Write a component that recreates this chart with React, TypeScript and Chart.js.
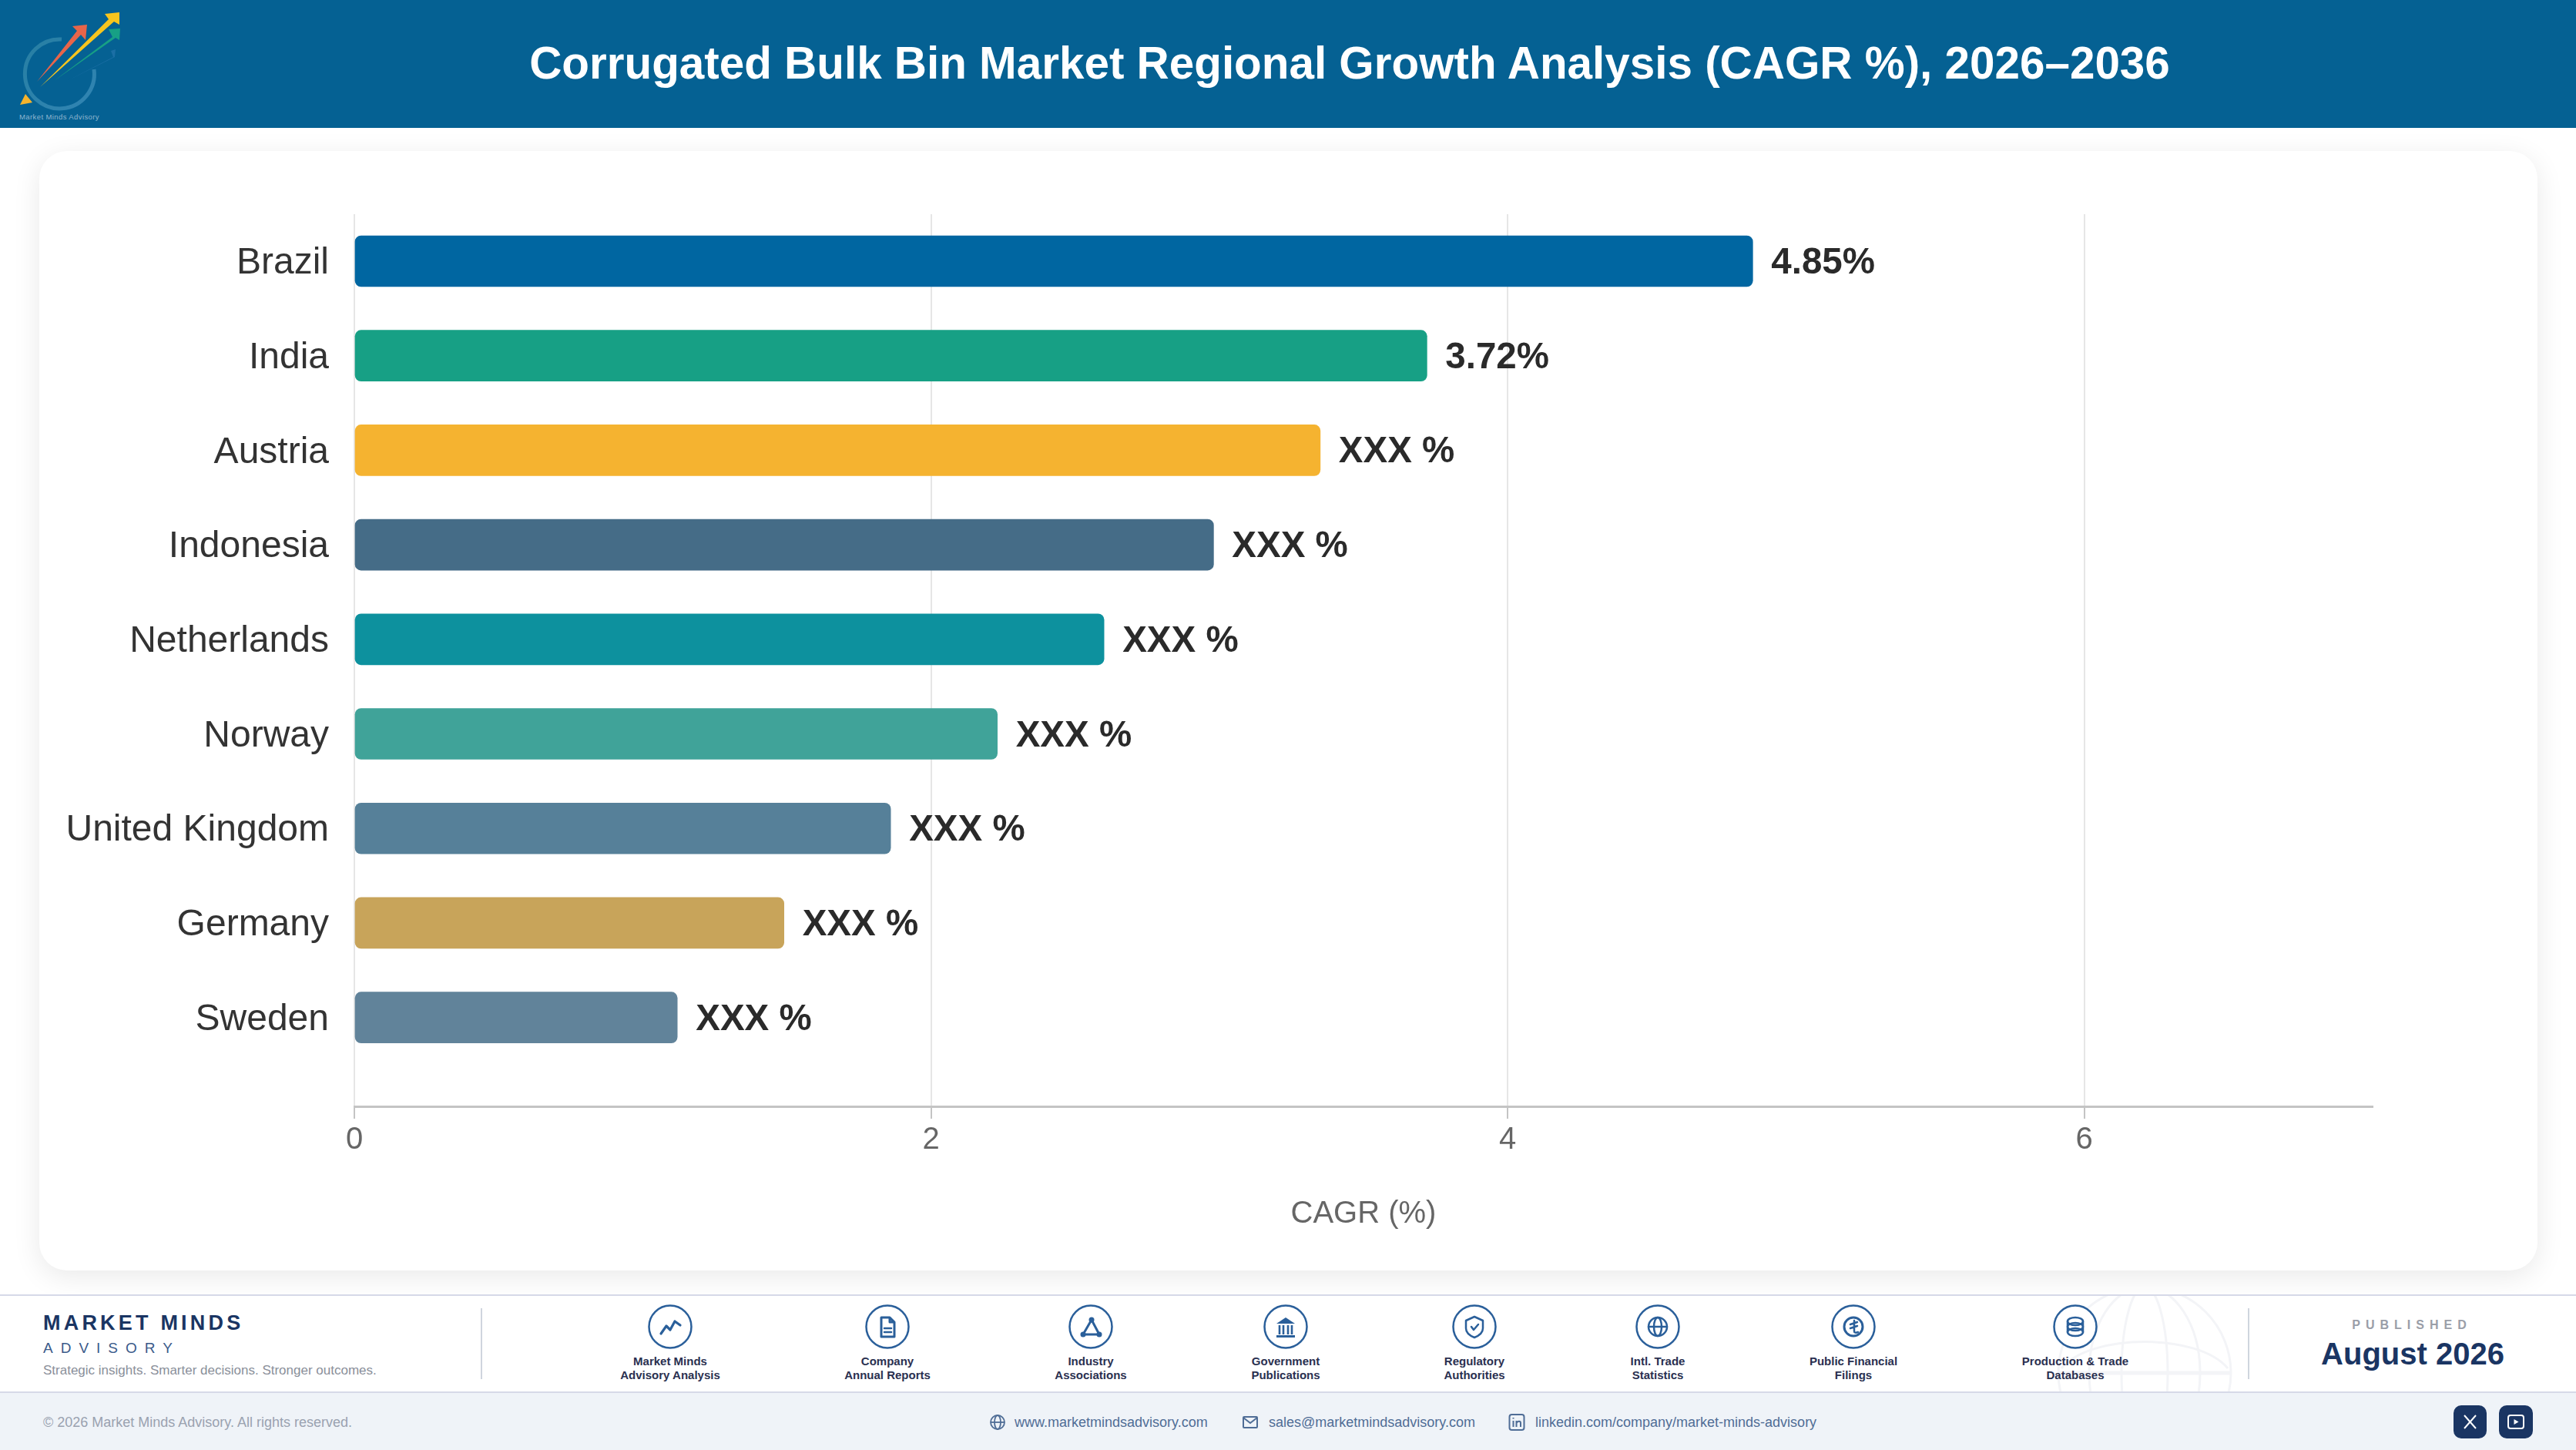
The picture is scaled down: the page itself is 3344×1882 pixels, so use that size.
import React, { useEffect, useRef } from "react";
import { Chart, registerables } from "chart.js";

Chart.register(...registerables);

const categories = ["Brazil", "India", "Austria", "Indonesia", "Netherlands", "Norway", "United Kingdom", "Germany", "Sweden"];
const cagrValues = [4.85, 3.72, 3.35, 2.98, 2.6, 2.23, 1.86, 1.49, 1.12];
const valueLabels = ["4.85%", "3.72%", "XXX %", "XXX %", "XXX %", "XXX %", "XXX %", "XXX %", "XXX %"];
const barColors = ["#0066A1", "#17A085", "#F5B330", "#456C87", "#0D919E", "#40A399", "#568099", "#C8A45A", "#61839A"];
const xTicks = [0, 2, 4, 6];
const titleText = "Corrugated Bulk Bin Market Regional Growth Analysis (CAGR %), 2026–2036";
const axisTitle = "CAGR (%)";
const FONT = '"Liberation Sans", Arial, sans-serif';

const sourceItems = [
  { x: 870, lines: ["Market Minds", "Advisory Analysis"], icon: "chart" },
  { x: 1152, lines: ["Company", "Annual Reports"], icon: "doc" },
  { x: 1416, lines: ["Industry", "Associations"], icon: "tri" },
  { x: 1669, lines: ["Government", "Publications"], icon: "gov" },
  { x: 1914, lines: ["Regulatory", "Authorities"], icon: "shield" },
  { x: 2152, lines: ["Intl. Trade", "Statistics"], icon: "globe" },
  { x: 2406, lines: ["Public Financial", "Filings"], icon: "coin" },
  { x: 2694, lines: ["Production & Trade", "Databases"], icon: "db" },
];

const BLUE = "#2A5F9A";
const NAVY = "#1A3563";

function Icon({ kind }: { kind: string }) {
  const s = { fill: "none", stroke: BLUE, strokeWidth: 2.5, strokeLinecap: "round", strokeLinejoin: "round" } as any;
  let inner: any = null;
  if (kind === "chart") inner = <path {...s} strokeWidth={3.2} d="M-12 9 L-5 -1 L0 4 L6 -7 L13 -2" />;
  if (kind === "doc") inner = (<g><path {...s} strokeWidth={3} d="M-8 -12 H3 L9 -6 V13 H-8 Z M3 -12 V-6 H9" /><path {...s} d="M-4 2 H5 M-4 7 H5" /></g>);
  if (kind === "tri") inner = (<g><path {...s} strokeWidth={3} d="M1 -9 L-10 10 H11 Z" /><circle cx={1} cy={-9} r={3.5} fill={BLUE} /><circle cx={-10} cy={10} r={3.5} fill={BLUE} /><circle cx={11} cy={10} r={3.5} fill={BLUE} /></g>);
  if (kind === "gov") inner = (<g><path fill={BLUE} d="M0 -12 L12 -4 H-12 Z" /><path {...s} strokeLinecap="butt" strokeWidth={2.6} d="M-8 -2 V10 M-3 -2 V10 M3 -2 V10 M8 -2 V10" /><rect x={-12} y={11} width={24} height={3} fill={BLUE} /></g>);
  if (kind === "shield") inner = (<g><path {...s} d="M0 -13 L11 -8 V2 C11 8 5 12 0 14 C-5 12 -11 8 -11 2 V-8 Z" /><path {...s} d="M-4 0 L-1 4 L5 -3" /></g>);
  if (kind === "globe") inner = (<g><circle {...s} r={12} /><ellipse {...s} rx={5} ry={12} /><path {...s} d="M-12 0 H12" /></g>);
  if (kind === "coin") inner = (<g><circle {...s} strokeWidth={3} r={12} /><path {...s} d="M-4 -3 L5 -6 M-4 2 L5 -1 M1 -8 V6 C1 8 3 8 6 7" /></g>);
  if (kind === "db") inner = (<g><ellipse {...s} rx={10} ry={5} cy={-7} /><ellipse {...s} rx={10} ry={5} cy={0} /><ellipse {...s} rx={10} ry={5} cy={7} /><path {...s} d="M-10 -7 V7 M10 -7 V7" /></g>);
  return inner;
}

function Txt(props: any) {
  const { x, y, size, color, bold, ls, anchor, children } = props;
  const tx = anchor === "center" ? "translate(-50%,-50%)" : "translateY(-50%)";
  return (
    <div style={{ position: "absolute", left: x, top: y, transform: tx, fontFamily: FONT, fontSize: size, color, fontWeight: bold ? 700 : 400, letterSpacing: ls || 0, whiteSpace: "nowrap", lineHeight: 1 }}>
      {children}
    </div>
  );
}

function Logo() {
  return (
    <svg style={{ position: "absolute", left: 0, top: 0 }} width={170} height={166}>
      <defs>
        <linearGradient id="arc" x1="0" y1="0" x2="1" y2="1">
          <stop offset="0" stopColor="#3E93AE" />
          <stop offset="1" stopColor="#4E9CC8" />
        </linearGradient>
      </defs>
      <path d="M80 51 A45 45 0 1 0 122 90" fill="none" stroke="url(#arc)" strokeWidth={5} opacity={0.6} />
      <polygon points="48,106 100,40 94,34 113,32 111,52 105,45" fill="#E8654A" />
      <polygon points="52,113 141,25 136,18 155,16 155,32 148,28" fill="#F7C51E" />
      <polygon points="70,105 146,48 141,38 156,37 155,52 150,49" fill="#17A085" />
      <polygon points="85,106 147,74 144,66 150,64 149,74" fill="#2A78B0" opacity={0.6} />
      <polygon points="33,122 26,136 42,133" fill="#F7B32B" />
      <text x={25} y={155} fontFamily={FONT} fontSize={9.5} fill="#8FB6D0" letterSpacing={0.4}>Market Minds Advisory</text>
    </svg>
  );
}

const valueLabelPlugin = {
  id: "valueLabels",
  afterDatasetsDraw(chart: any) {
    const ctx = chart.ctx;
    const meta = chart.getDatasetMeta(0);
    ctx.save();
    ctx.font = `700 47.5px ${FONT}`;
    ctx.fillStyle = "#2A2A2A";
    ctx.textAlign = "left";
    ctx.textBaseline = "middle";
    meta.data.forEach((bar: any, i: number) => {
      ctx.fillText(valueLabels[i], bar.x + 24, bar.y + 3);
    });
    ctx.restore();
  },
};

export default function App() {
  const ref = useRef<HTMLCanvasElement>(null);
  useEffect(() => {
    const chart = new Chart(ref.current as any, {
      type: "bar",
      data: {
        labels: categories,
        datasets: [
          {
            label: axisTitle,
            data: cagrValues.map((v, i) => ({ x: v, y: i })) as any,
            backgroundColor: barColors,
            borderRadius: 8,
            borderSkipped: false,
            barThickness: 66,
          },
        ],
      },
      options: {
        indexAxis: "y",
        animation: false,
        responsive: false,
        devicePixelRatio: 1,
        layout: { padding: { top: 82, right: 214, left: 0, bottom: 0 } },
        plugins: { legend: { display: false }, tooltip: { enabled: false } },
        scales: {
          x: {
            type: "linear",
            min: 0,
            max: 7,
            afterBuildTicks: (axis: any) => { axis.ticks = xTicks.map((value) => ({ value })); },
            afterFit: (axis: any) => { axis.height = 213; },
            grid: { color: "#E6E6E6", lineWidth: 2, tickColor: "#C4C4C4", tickWidth: 2, tickLength: 16, drawTicks: true },
            border: { display: true, color: "#C4C4C4", width: 3 },
            ticks: { color: "#666666", font: { family: FONT, size: 40 }, padding: 4, maxRotation: 0 },
            title: { display: true, text: axisTitle, color: "#666666", font: { family: FONT, size: 40 }, padding: { top: 0, bottom: 49 } },
          },
          y: {
            type: "linear",
            reverse: true,
            offset: false,
            min: -0.497,
            max: 8.94,
            afterBuildTicks: (axis: any) => { axis.ticks = categories.map((_, value) => ({ value })); },
            afterFit: (axis: any) => { axis.width = 409; },
            grid: { display: false, drawTicks: false, offset: false },
            border: { display: false },
            ticks: {
              autoSkip: false,
              color: "#333333",
              font: { family: FONT, size: 48 },
              padding: 33,
              labelOffset: 3,
              callback: (v: any) => categories[v as number],
            },
          },
        },
      },
      plugins: [valueLabelPlugin],
    } as any);
    return () => chart.destroy();
  }, []);

  return (
    <div style={{ position: "absolute", left: 0, top: 0, width: 3344, height: 1882, overflow: "hidden", background: "#FFFFFF" }}>
      <div style={{ position: "absolute", left: 0, top: 0, width: 3344, height: 166, background: "#056193" }} />
      <Logo />
      <Txt x={1752} y={82} size={58.4} color="#FFFFFF" bold anchor="center">{titleText}</Txt>

      <div style={{ position: "absolute", left: 51, top: 196, width: 3243, height: 1453, background: "#FFFFFF", borderRadius: 36, boxShadow: "0 8px 36px rgba(0,0,0,0.09)" }} />
      <canvas ref={ref} width={3243} height={1453} style={{ position: "absolute", left: 51, top: 196, width: 3243, height: 1453 }} />

      <div style={{ position: "absolute", left: 0, top: 1680, width: 3344, height: 128, background: "#FFFFFF", borderTop: "2px solid #D6D9E8", borderBottom: "2px solid #D6D9E8", boxSizing: "border-box" }} />
      <div style={{ position: "absolute", left: 0, top: 1808, width: 3344, height: 74, background: "#EFF3F8" }} />

      <svg style={{ position: "absolute", left: 2600, top: 1682, overflow: "hidden" }} width={380} height={124}>
        <g transform="translate(184,100)" fill="none" stroke="#F3F4F7" strokeWidth={3}>
          <circle r={112} />
          <ellipse rx={72} ry={112} />
          <ellipse rx={30} ry={112} />
          <path d="M-112 0 H112" strokeWidth={5} />
          <path d="M-108 -6 C-70 -52 70 -52 108 -6" />
        </g>
      </svg>

      <Txt x={56} y={1717} size={27} color={NAVY} bold ls={4.2}>MARKET MINDS</Txt>
      <Txt x={56} y={1749} size={19} color="#3A5A8A" ls={10}>ADVISORY</Txt>
      <Txt x={56} y={1778} size={17} color="#8A8F9A">Strategic insights. Smarter decisions. Stronger outcomes.</Txt>
      <div style={{ position: "absolute", left: 624, top: 1698, width: 2, height: 92, background: "#CFD5DE" }} />
      <div style={{ position: "absolute", left: 2918, top: 1698, width: 2, height: 92, background: "#CFD5DE" }} />

      {sourceItems.map((it) => (
        <React.Fragment key={it.x}>
          <svg style={{ position: "absolute", left: it.x - 30, top: 1692 }} width={60} height={60}>
            <g transform="translate(30,30)">
              <circle r={27.5} fill="#FFFFFF" stroke={BLUE} strokeWidth={2.5} />
              <Icon kind={it.icon} />
            </g>
          </svg>
          <Txt x={it.x} y={1766} size={15} color="#2A3050" bold anchor="center">{it.lines[0]}</Txt>
          <Txt x={it.x} y={1784} size={15} color="#2A3050" bold anchor="center">{it.lines[1]}</Txt>
        </React.Fragment>
      ))}

      <Txt x={3131} y={1720} size={16} color="#9A9EA8" bold ls={7} anchor="center">PUBLISHED</Txt>
      <Txt x={3132} y={1757} size={40} color={NAVY} bold anchor="center">August 2026</Txt>

      <Txt x={56} y={1846} size={18} color="#9AA2B0">© 2026 Market Minds Advisory. All rights reserved.</Txt>
      <svg style={{ position: "absolute", left: 1283, top: 1834 }} width={24} height={24}>
        <g transform="translate(12,12)" fill="none" stroke="#4F6D96" strokeWidth={1.8}>
          <circle r={9} /><ellipse rx={4} ry={9} /><path d="M-9 0 H9" />
        </g>
      </svg>
      <Txt x={1317} y={1846} size={18} color="#4F6D96">www.marketmindsadvisory.com</Txt>
      <svg style={{ position: "absolute", left: 1611, top: 1834 }} width={24} height={24}>
        <g fill="none" stroke="#4F6D96" strokeWidth={2}><rect x={3} y={5} width={18} height={14} rx={1} /><path d="M3 6 L12 13 L21 6" /></g>
      </svg>
      <Txt x={1647} y={1846} size={18} color="#4F6D96">sales@marketmindsadvisory.com</Txt>
      <svg style={{ position: "absolute", left: 1957, top: 1834 }} width={24} height={24}>
        <g fill="none" stroke="#4F6D96" strokeWidth={2}><rect x={2.5} y={2} width={19} height={20} rx={3} /><path d="M7.5 10 V18 M11.5 18 V10 M11.5 13 C13 10 17 10 17 13 V18" /><path d="M7.5 6 V7.5" /></g>
      </svg>
      <Txt x={1993} y={1846} size={18} color="#4F6D96">linkedin.com/company/market-minds-advisory</Txt>

      <svg style={{ position: "absolute", left: 3185, top: 1824 }} width={104} height={44}>
        <rect x={0} y={0} width={43} height={43} rx={10} fill={NAVY} />
        <path d="M14 13 L29 30 M29 13 L14 30" stroke="#FFFFFF" strokeWidth={2} fill="none" />
        <rect x={59} y={0} width={44} height={43} rx={10} fill={NAVY} />
        <rect x={71} y={13} width={20} height={17} rx={3} fill="none" stroke="#FFFFFF" strokeWidth={2} />
        <path d="M78.5 18 L84.5 21.5 L78.5 25 Z" fill="#FFFFFF" />
      </svg>
    </div>
  );
}
